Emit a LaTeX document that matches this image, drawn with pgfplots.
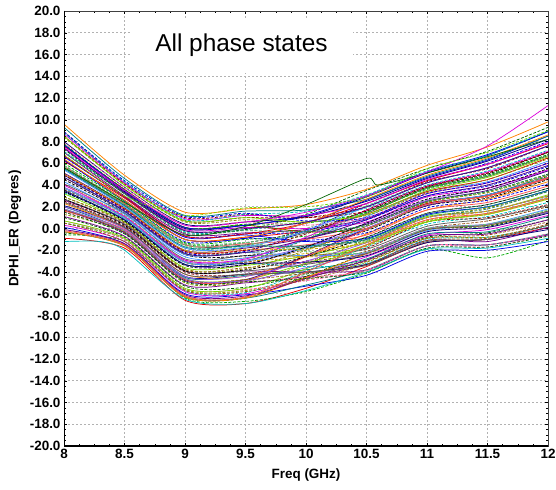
\documentclass[border=0pt]{standalone}
\usepackage{fontspec}
\setmainfont{Liberation Sans}
\usepackage{pgfplots}
\usepackage{pgfplotstable}
\pgfplotsset{compat=1.18}

\definecolor{k1}{RGB}{230,0,0}
\definecolor{k2}{RGB}{0,170,0}
\definecolor{k3}{RGB}{0,0,230}
\definecolor{k4}{RGB}{220,0,220}
\definecolor{k5}{RGB}{0,190,190}
\definecolor{k6}{RGB}{120,0,140}
\definecolor{k7}{RGB}{0,100,0}
\definecolor{k8}{RGB}{140,140,0}
\definecolor{k9}{RGB}{0,0,120}
\definecolor{k10}{RGB}{140,0,0}
\definecolor{k11}{RGB}{0,128,128}
\definecolor{k12}{RGB}{255,130,0}
\definecolor{k13}{RGB}{255,100,170}
\definecolor{k14}{RGB}{120,220,0}
\definecolor{k15}{RGB}{150,80,20}
\definecolor{k16}{RGB}{140,90,230}
\definecolor{k17}{RGB}{90,90,90}
\definecolor{k18}{RGB}{0,0,0}
\definecolor{k19}{RGB}{200,160,0}
\definecolor{k20}{RGB}{70,150,255}
\definecolor{k21}{RGB}{46,139,87}
\definecolor{k22}{RGB}{75,0,130}
\definecolor{k23}{RGB}{255,80,80}
\definecolor{k24}{RGB}{100,200,120}

\tikzset{dsh/.style={dash pattern=on 3pt off 1.5pt}}

\pgfplotscreateplotcyclelist{phases}{
k1,solid\\
k2,dsh\\
k3,solid\\
k4,solid\\
k5,dsh\\
k6,solid\\
k7,dsh\\
k8,dsh\\
k9,solid\\
k10,dsh\\
k11,solid\\
k12,solid\\
k13,dsh\\
k14,solid\\
k15,dsh\\
k16,solid\\
k17,solid\\
k18,dsh\\
k19,dsh\\
k20,solid\\
k21,dsh\\
k22,solid\\
k23,solid\\
k24,dsh\\
k3,dsh\\
}

% one row per phase state: DPHI_ER (deg) at 8, 8.5, ..., 12 GHz
\pgfplotstableread[header=has colnames]{
id 8 8.5 9 9.5 10 10.5 11 11.5 12
c1 -0.9 -1.8 -6.6 -6.9 -5.5 -3.5 -1.3 -1.0 0.1
c2 -0.6 -1.2 -6.4 -6.7 -5.8 -4.1 -1.9 -2.7 -1.1
c3 0.1 -1.4 -6.0 -6.1 -5.3 -4.3 -2.1 -2.0 -1.2
c4 0.3 -1.2 -5.8 -6.0 -4.5 -2.6 -0.6 -0.1 1.2
c5 0.5 -1.0 -5.7 -5.9 -3.9 -1.7 0.4 1.1 2.4
c6 1.1 -0.7 -5.2 -5.0 -4.4 -3.3 -1.1 -1.2 0.1
c7 1.0 -0.8 -5.3 -5.4 -4.2 -2.9 -0.8 -0.4 0.8
c8 1.3 -0.4 -5.0 -4.9 -3.3 -1.0 1.0 1.9 3.4
c9 2.1 0.1 -4.4 -4.2 -4.0 -3.3 -1.3 -1.0 -0.1
c10 2.5 0.2 -4.0 -4.2 -3.0 -1.8 0.6 1.0 2.2
c11 2.0 -0.2 -4.5 -4.3 -3.8 -2.8 -0.5 -0.3 1.1
c12 2.3 0.0 -4.2 -4.4 -2.6 -0.5 1.7 2.7 4.3
c13 3.3 0.9 -3.3 -3.1 -3.2 -2.4 -0.3 0.1 1.4
c14 3.2 0.6 -3.6 -3.4 -2.5 -1.2 1.1 1.6 3.1
c15 2.9 0.5 -3.8 -3.6 -3.1 -2.1 0.0 0.7 2.0
c16 3.4 0.8 -3.3 -3.3 -1.7 0.5 2.6 3.7 5.3
c17 4.1 1.4 -2.8 -2.5 -2.5 -1.9 0.2 0.9 2.1
c18 4.5 1.5 -2.4 -2.5 -1.6 -0.2 2.1 2.8 4.5
c19 4.0 1.2 -2.9 -2.7 -2.3 -1.3 0.8 1.6 3.0
c20 4.3 1.3 -2.6 -2.7 -1.0 1.1 3.4 4.3 6.2
c21 5.4 2.1 -1.8 -1.6 -1.7 -1.1 1.0 1.8 3.4
c22 5.1 1.9 -2.0 -1.8 -0.9 0.4 2.5 3.5 5.3
c23 5.0 1.8 -2.1 -2.0 -1.5 -0.6 1.7 2.4 3.9
c24 5.5 2.2 -1.6 -1.6 0.0 2.1 4.2 5.6 7.6
c25 6.3 2.5 -1.2 -0.9 -1.1 -0.4 1.9 2.6 4.1
c26 6.2 2.8 -1.0 -0.8 -0.2 1.3 3.4 4.5 6.5
c27 6.0 2.5 -1.3 -1.0 -0.7 0.3 2.4 3.4 5.0
c28 6.3 2.6 -1.0 -0.9 0.5 2.6 4.7 6.3 8.5
c29 7.4 3.3 -0.1 0.1 0.0 0.6 2.9 3.7 5.4
c30 7.1 3.3 -0.3 -0.1 0.6 1.9 4.0 5.3 7.2
c31 7.0 3.0 -0.5 -0.4 -0.1 0.9 3.2 4.2 6.0
c32 7.3 3.2 -0.2 -0.1 1.3 3.5 5.5 7.1 9.3
c33 8.4 4.0 0.6 0.8 0.6 1.2 3.3 4.5 6.4
c34 8.0 3.8 0.4 0.6 1.1 2.5 4.6 6.2 8.2
c35 8.5 4.1 0.7 1.0 1.0 2.0 4.3 5.5 7.6
c36 9.3 4.6 1.2 1.6 1.7 2.7 4.8 6.4 8.5
c37 9.6 4.9 1.5 1.8 2.2 3.6 5.8 7.5 9.8
c38 1.5 -0.3 -4.7 -4.9 -4.5 -3.9 -1.6 -1.7 -0.6
c39 1.8 -0.3 -4.6 -4.7 -3.2 -1.5 0.6 1.4 2.8
c40 3.6 1.0 -3.1 -3.1 -1.9 -0.1 2.2 2.9 4.6
c41 3.8 1.1 -3.0 -2.9 -1.7 0.2 2.3 3.1 4.9
c42 5.6 2.2 -1.5 -1.5 -0.4 1.4 3.7 4.8 6.7
c43 5.8 2.3 -1.4 -1.3 -0.2 1.6 3.8 5.0 7.0
c44 4.7 1.6 -2.3 -2.2 -2.6 -2.3 -0.1 0.3 1.5
c45 4.9 1.5 -2.4 -2.2 -2.5 -2.2 -0.2 0.4 1.8
c46 3.7 1.0 -3.1 -3.0 -1.0 1.5 3.6 4.8 6.8
c47 1.7 -0.4 -4.8 -4.7 -2.5 0.0 2.1 3.1 4.7
c48 1.6 -0.1 -4.7 -4.8 -2.6 -0.1 2.2 3.0 4.6
c49 -0.1 -1.5 -6.2 -6.3 -4.0 -1.6 0.7 1.3 2.9
c50 4.9 1.7 -2.2 -2.1 -0.2 2.3 4.4 6.0 8.0
c51 7.6 3.6 0.1 0.3 -0.3 0.0 2.3 3.0 4.7
c52 7.8 3.5 0.1 0.3 -0.3 0.0 2.2 3.1 4.8
c53 6.6 2.9 -0.8 -0.6 -1.2 -0.9 1.3 2.0 3.5
c54 4.0 1.1 -2.9 -2.8 -0.8 1.7 3.9 5.2 7.1
c55 3.3 0.9 -3.3 -3.2 -3.5 -3.2 -1.0 -0.8 0.2
c56 2.6 0.4 -3.9 -3.9 -4.0 -3.8 -1.6 -1.5 -0.6
c57 -0.4 -1.5 -6.3 -6.4 -4.4 -2.3 -0.1 0.2 1.5
c58 0.5 -1.0 -5.6 -5.7 -4.5 -3.1 -0.9 -0.8 0.3
c59 7.7 3.4 0.0 0.3 1.1 2.9 5.1 6.7 8.9
c60 8.9 4.2 1.0 1.3 1.0 1.6 3.8 5.1 7.0
c61 -0.3 -1.6 -6.3 -6.4 -5.2 -3.8 -1.6 -1.5 -0.5
c62 -0.3 -1.6 -6.3 -6.4 -4.5 -2.3 -0.1 0.3 1.6
c63 0.7 -1.0 -5.5 -5.6 -4.8 -3.8 -1.6 -1.5 -0.5
c64 0.7 -0.9 -5.5 -5.5 -3.7 -1.5 0.6 1.3 2.7
c65 1.7 -0.3 -4.7 -4.7 -4.1 -3.0 -0.9 -0.6 0.6
c66 1.8 -0.2 -4.6 -4.8 -3.6 -2.2 0.0 0.4 1.5
c67 2.7 0.4 -3.9 -3.9 -3.3 -2.3 -0.1 0.3 1.6
c68 2.7 0.3 -3.9 -3.8 -2.6 -0.8 1.4 2.2 3.7
c69 3.7 1.0 -3.1 -3.0 -2.6 -1.6 0.7 1.3 2.7
c70 3.7 1.0 -3.1 -3.0 -1.8 0.0 2.2 3.1 4.7
c71 4.7 1.6 -2.3 -2.2 -1.8 -0.8 1.4 2.2 3.7
c72 4.7 1.6 -2.3 -2.2 -1.0 0.8 3.0 4.0 5.8
c73 5.7 2.3 -1.5 -1.4 -1.0 0.0 2.2 3.0 4.7
c74 5.7 2.2 -1.5 -1.3 -0.3 1.5 3.7 4.9 6.8
c75 6.7 2.9 -0.7 -0.5 -0.3 0.8 3.0 3.9 5.7
c76 6.7 2.9 -0.7 -0.5 0.5 2.3 4.4 5.9 7.8
c77 7.7 3.6 0.1 0.4 0.5 1.5 3.7 4.9 6.8
c78 7.7 3.5 0.1 0.3 1.2 3.0 5.2 6.8 8.9
c79 8.7 4.2 0.9 1.2 1.2 2.3 4.5 5.9 7.9
c80 8.8 4.3 0.8 1.3 1.6 3.1 5.3 6.7 9.0
c81 -0.1 -1.4 -6.1 -6.2 -4.6 -2.9 -0.7 -0.5 0.8
c82 1.5 -0.5 -4.9 -4.9 -4.6 -4.0 -1.8 -1.7 -0.7
c83 2.9 0.6 -3.7 -3.7 -2.0 0.2 2.4 3.3 4.9
c84 3.5 0.8 -3.3 -3.2 -3.1 -2.5 -0.3 0.1 1.4
c85 4.9 1.8 -2.1 -2.0 -0.5 1.7 3.9 5.1 7.0
c86 5.5 2.1 -1.7 -1.6 -1.6 -1.0 1.2 2.0 3.5
c87 6.4 2.6 -1.0 -0.8 0.5 2.7 4.9 6.5 8.6
c88 7.9 3.8 0.3 0.6 0.3 1.0 3.2 4.2 6.0
c89 8.5 4.0 0.7 1.0 0.6 1.3 3.5 4.7 6.6
c90 0.5 -1.2 -5.7 -5.8 -4.7 -3.3 -1.1 -0.9 0.4
c91 2.0 0.0 -4.4 -4.4 -3.0 -1.3 1.0 1.6 3.0
c92 2.4 0.1 -4.2 -4.2 -4.0 -3.4 -1.2 -1.0 0.3
c93 3.4 0.7 -3.4 -3.3 -1.7 0.5 2.7 3.7 5.5
c94 5.0 1.9 -2.0 -1.9 -1.9 -1.3 1.0 1.6 3.0
c95 5.4 2.0 -1.8 -1.7 -0.2 2.0 4.2 5.6 7.6
c96 7.0 3.2 -0.4 -0.2 -0.3 0.3 2.5 3.4 5.0
c97 7.4 3.3 -0.2 0.0 0.6 2.0 4.2 5.6 7.6
c98 -0.2 -1.5 -6.2 -6.3 -4.0 -1.5 0.8 1.4 2.8
c99 5.8 2.4 -1.4 -1.3 -2.1 -2.2 0.0 0.4 1.7
c100 8.9 4.4 1.1 1.4 0.7 1.0 3.2 4.2 6.0
}\raw
\pgfplotstabletranspose[colnames from=id]\phasedata\raw

\begin{document}
\begin{tikzpicture}
\begin{axis}[
  name=ax,
  scale only axis,
  width=484bp, height=435bp,
  xmin=8, xmax=12, ymin=-20, ymax=20,
  xtick={8,8.5,...,12},
  ytick={-20,-18,...,20},
  minor x tick num=3,
  minor y tick num=3,
  tick align=inside,
  major tick length=3bp,
  minor tick length=2bp,
  tick style={black, line width=0.5pt},
  /pgf/number format/assume math mode=true,
  yticklabel style={/pgf/number format/.cd, fixed, fixed zerofill, precision=1},
  xticklabel style={/pgf/number format/.cd, fixed},
  ticklabel style={font=\fontsize{13.5}{16}\selectfont\bfseries},
  label style={font=\fontsize{13.5}{16}\selectfont\bfseries},
  xlabel={Freq (GHz)},
  ylabel={DPHI\_ER (Degres)},
  xlabel style={at={(axis description cs:0.5,0)}, anchor=center, yshift=-29bp},
  ylabel style={at={([xshift=-49bp]axis description cs:0,0.5)}, anchor=center},
  grid=major,
  major grid style={draw=gray!60, dash pattern=on 2bp off 2bp, line width=0.6pt},
  axis line style={draw=black!75, line width=0.8pt},
  cycle list name=phases,
  every axis plot/.append style={line width=0.75pt, no marks, smooth, tension=0.45},
  clip=true,
]
\pgfplotsinvokeforeach{1,...,100}{
  \addplot table[x=colnames, y=c#1]{\phasedata};
}
% a few individual states
\addplot[k7, line width=0.7pt] coordinates {(8,5.6) (8.5,2.4) (9,-0.6) (9.5,0.2) (10,2.2) (10.5,4.6) (10.6,4.0) (11,5.1) (11.5,6.6) (12,8.2)};
\addplot[k4, line width=0.7pt] coordinates {(8,7.5) (8.5,3.5) (9,0.3) (9.5,0.6) (10,1.5) (10.5,3.0) (11,5.2) (11.5,7.6) (12,11.3)};
\addplot[k5, line width=0.7pt] coordinates {(8,-1.2) (8.3,-1.2) (8.5,-2.0) (9,-6.5) (9.5,-6.9) (10,-5.7) (10.5,-4.0) (11,-1.9) (11.5,-1.8) (12,-0.9)};
\addplot[k14, dsh, line width=0.7pt] coordinates {(8,6.8) (8.5,3.0) (9,1.2) (9.5,1.9) (10,2.0) (10.5,2.9) (11,5.5) (11.5,7.0) (12,9.0)};
\draw[black, line width=1.4pt] (rel axis cs:0,1) -- (rel axis cs:0,0) -- (rel axis cs:1,0);
\node[fill=white, minimum width=223bp, minimum height=55bp, inner sep=0pt,
      font=\fontsize{24.5}{29}\selectfont] at (axis cs:9.467,16.83) {All phase states};
\end{axis}
\pgfresetboundingbox
\useasboundingbox ([shift={(-64bp,-43bp)}]ax.south west) rectangle ([shift={(8bp,11bp)}]ax.north east);
\end{tikzpicture}
\end{document}
